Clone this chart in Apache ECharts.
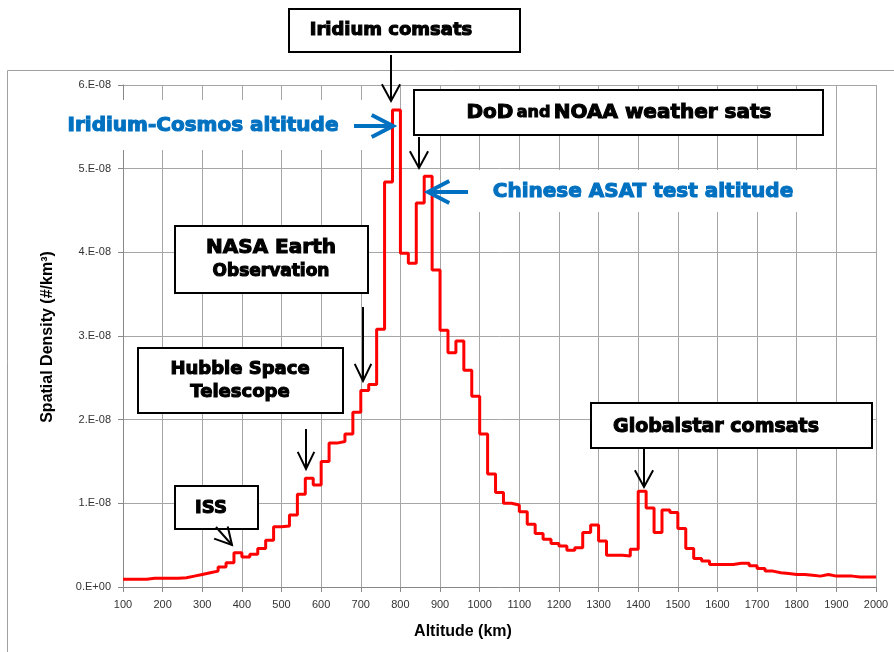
<!DOCTYPE html>
<html><head><meta charset="utf-8">
<script src="https://cdn.jsdelivr.net/npm/echarts/dist/echarts.min.js"></script>
<style>html,body{margin:0;padding:0;background:#fff}#c{width:894px;height:652px}</style>
</head><body><div id="c"></div>
<script>
// Bin left edges (km), 20 km bins from 100 to 2000
const altitudeEdges = [100,120,140,160,180,200,220,240,260,280,300,320,340,360,380,400,420,440,460,480,
  500,520,540,560,580,600,620,640,660,680,700,720,740,760,780,800,820,840,860,880,
  900,920,940,960,980,1000,1020,1040,1060,1080,1100,1120,1140,1160,1180,1200,1220,1240,1260,1280,
  1300,1320,1340,1360,1380,1400,1420,1440,1460,1480,1500,1520,1540,1560,1580,1600,1620,1640,1660,1680,
  1700,1720,1740,1760,1780,1800,1820,1840,1860,1880,1900,1920,1940,1960,1980,2000];
// Spatial density per bin, in units of 1e-8 #/km^3
const densityE8 = [0.092,0.092,0.092,0.104,0.104,0.104,0.104,0.11,0.13,0.15,0.17,0.19,0.24,0.29,0.41,0.36,0.39,0.46,0.56,0.72,
  0.73,0.86,1.11,1.30,1.22,1.50,1.72,1.74,1.83,2.09,2.35,2.42,3.08,4.84,5.70,3.99,3.87,4.59,4.91,3.79,
  3.07,2.80,2.94,2.59,2.28,1.83,1.35,1.13,1.00,0.98,0.90,0.75,0.64,0.57,0.52,0.49,0.44,0.47,0.65,0.74,
  0.55,0.38,0.38,0.37,0.45,1.145,0.945,0.65,0.92,0.89,0.70,0.46,0.34,0.31,0.27,0.27,0.27,0.285,0.285,0.255,
  0.22,0.19,0.17,0.16,0.15,0.15,0.14,0.13,0.15,0.13,0.13,0.13,0.12,0.12,0.12];
const xTitle = 'Altitude (km)';
const yTitle = 'Spatial Density (#/km\u00B3)';

const seriesData = [];
for (let i = 0; i < densityE8.length; i++) seriesData.push([altitudeEdges[i], densityE8[i] * 1e-8]);
seriesData.push([altitudeEdges[densityE8.length], densityE8[densityE8.length - 1] * 1e-8]);

const BLUE = '#0070C0';
const HEAVY = '"DejaVu Sans", sans-serif';
function arrow(x1, y1, x2, y2, color, w, head, ang) {
  const a = Math.atan2(y2 - y1, x2 - x1);
  const p1 = [x2 - head * Math.cos(a - ang), y2 - head * Math.sin(a - ang)];
  const p2 = [x2 - head * Math.cos(a + ang), y2 - head * Math.sin(a + ang)];
  return [
    {type: 'line', z: 100, shape: {x1, y1, x2, y2}, style: {stroke: color, lineWidth: w}},
    {type: 'polyline', z: 100, shape: {points: [p1, [x2, y2], p2]}, style: {stroke: color, lineWidth: w, fill: null}}
  ];
}
function box(x, y, w, h) {
  return {type: 'rect', z: 100, shape: {x, y, width: w, height: h}, style: {fill: '#fff', stroke: '#000', lineWidth: 2}};
}
function txt(x, y, text, size, color) {
  const c = color || '#000';
  return {type: 'text', z: 101, x, y, style: {text, fill: c, stroke: c, lineWidth: 1.1, font: 'bold ' + size + 'px ' + HEAVY, align: 'center', verticalAlign: 'middle'}};
}

const graphics = [
  {type: 'rect', z: -1, silent: true, shape: {x: 7.5, y: 70.5, width: 950, height: 650}, style: {fill: null, stroke: '#a0a0a0', lineWidth: 1}},
  {type: 'rect', z: 99, shape: {x: 58, y: 100, width: 307, height: 50}, style: {fill: '#fff'}},
  {type: 'rect', z: 99, shape: {x: 478, y: 170, width: 330, height: 42}, style: {fill: '#fff'}},
  box(289, 9, 231, 43), txt(391, 30, 'Iridium comsats', 18),
  box(414, 90, 409, 45),
  {type: 'text', z: 101, x: 619, y: 113, style: {text: '{b|DoD} {s|and} {b|NOAA weather sats}', align: 'center', verticalAlign: 'middle',
    rich: {b: {fontSize: 20, fontWeight: 'bold', fontFamily: HEAVY, fill: '#000', stroke: '#000', lineWidth: 1.1},
           s: {fontSize: 16, fontWeight: 'bold', fontFamily: HEAVY, fill: '#000', stroke: '#000', lineWidth: 1}}}},
  box(175, 226, 193, 67), txt(271, 248, 'NASA Earth', 20), txt(271, 272, 'Observation', 17),
  box(138, 348, 205, 65), txt(240, 369, 'Hubble Space', 18), txt(240, 392, 'Telescope', 18),
  box(175, 486, 83, 43), txt(211, 508, 'ISS', 18),
  box(591, 403, 281, 45), txt(716, 427, 'Globalstar comsats', 19),
  txt(203, 126, 'Iridium-Cosmos altitude', 20, BLUE),
  txt(643, 192, 'Chinese ASAT test altitude', 20, BLUE),
  {type: 'text', z: 101, x: 48, y: 337, rotation: Math.PI / 2, style: {text: yTitle, fill: '#000', font: 'bold 16px "Liberation Sans", Arial, sans-serif', align: 'center', verticalAlign: 'middle'}},
  {type: 'text', z: 101, x: 463, y: 632, style: {text: xTitle, fill: '#000', font: 'bold 16px "Liberation Sans", Arial, sans-serif', align: 'center', verticalAlign: 'middle'}}
].concat(
  arrow(391, 55, 391, 101, '#000', 2, 19, 0.5),
  arrow(419, 137, 419, 168, '#000', 2, 19, 0.5),
  arrow(354, 126, 393, 126, BLUE, 4, 24, 0.48),
  arrow(468, 192, 428, 192, BLUE, 4, 24, 0.48),
  arrow(363, 307, 363, 381, '#000', 2, 19, 0.45),
  arrow(306, 429, 306, 469, '#000', 2, 19, 0.45),
  arrow(216, 527, 232, 545, '#000', 2, 19, 0.5),
  arrow(644, 449, 644, 487, '#000', 2, 19, 0.5)
);

const chart = echarts.init(document.getElementById('c'), null, {renderer: 'canvas'});
chart.setOption({
  animation: false,
  backgroundColor: '#fff',
  grid: {left: 123, right: 18, top: 85, bottom: 65, containLabel: false},
  xAxis: {
    type: 'value', min: 100, max: 2000, interval: 100,
    axisLine: {lineStyle: {color: '#888', width: 1}},
    axisTick: {show: true, inside: false, length: 5, lineStyle: {color: '#888'}},
    axisLabel: {color: '#333', fontSize: 11, margin: 12, fontFamily: '"Liberation Sans", Arial, sans-serif',
      formatter: function (v) { return String(Math.round(v)); }},
    splitLine: {show: true, lineStyle: {color: '#a6a6a6', width: 1}}
  },
  yAxis: {
    type: 'value', min: 0, max: 6e-8, interval: 1e-8,
    axisLine: {show: true, lineStyle: {color: '#888', width: 1}},
    axisTick: {show: true, inside: false, length: 5, lineStyle: {color: '#888'}},
    axisLabel: {color: '#333', fontSize: 11, margin: 12, fontFamily: '"Liberation Sans", Arial, sans-serif',
      formatter: function (v) { const n = Math.round(v * 1e8); return n === 0 ? '0.E+00' : n + '.E-08'; }},
    splitLine: {show: true, lineStyle: {color: '#a6a6a6', width: 1}}
  },
  series: [{
    type: 'line', step: 'end', data: seriesData, showSymbol: false, symbol: 'none',
    lineStyle: {color: '#ff0000', width: 3}, z: 5
  }],
  graphic: graphics
});
</script></body></html>
